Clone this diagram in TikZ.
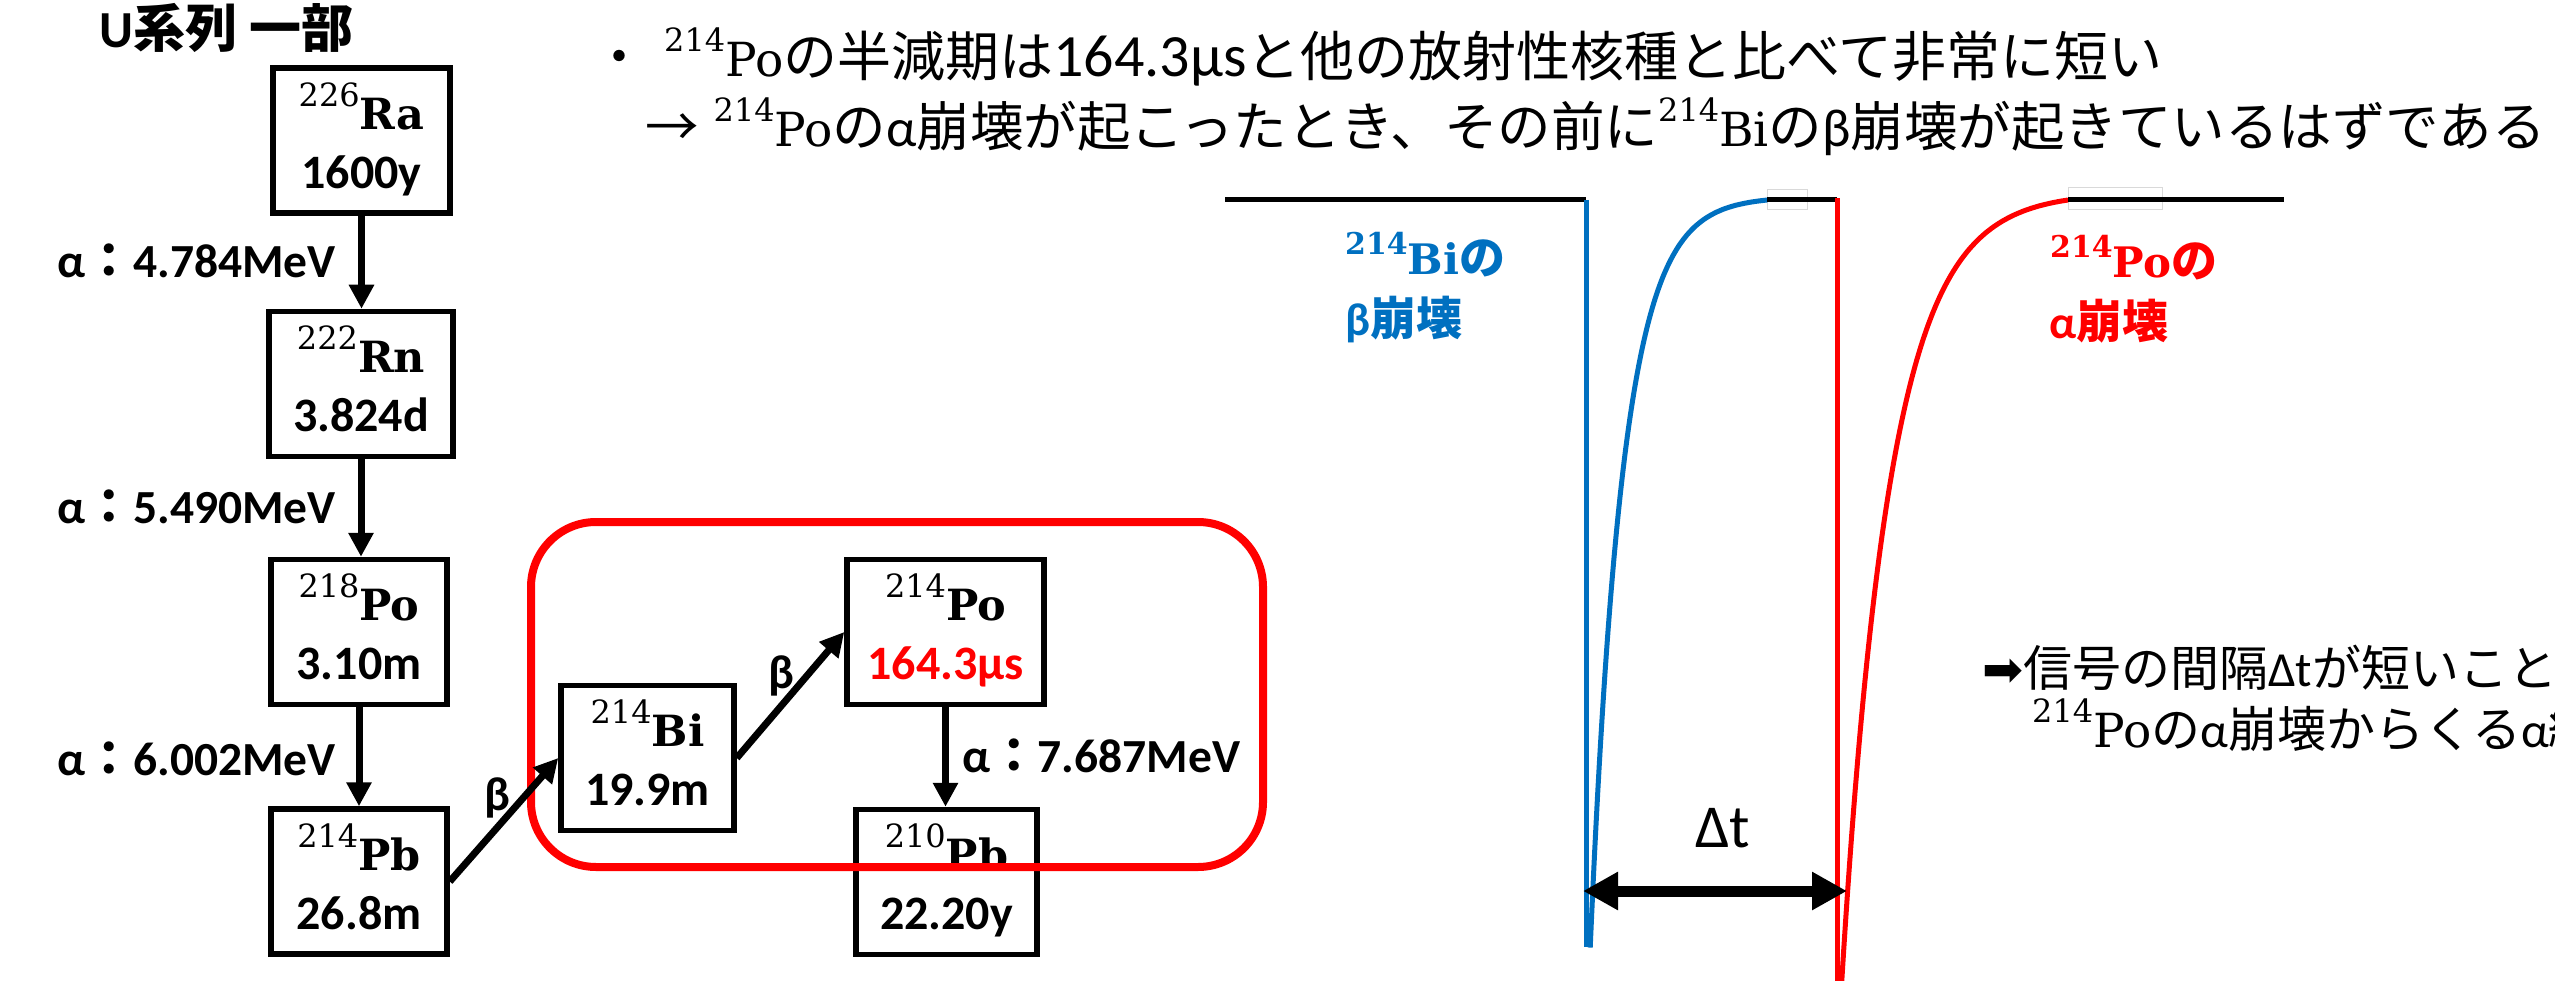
\documentclass[tikz,border=0pt]{standalone}
\usepackage{fontspec}
\setmainfont{Carlito}
\newfontfamily\jp{Noto Sans CJK JP}
\newfontfamily\ser{DejaVu Serif}
\newfontfamily\djs{DejaVu Sans}
\usetikzlibrary{arrows.meta}
\definecolor{obl}{RGB}{0,112,192}
\definecolor{ord}{RGB}{255,0,0}
\newcommand\fsz[1]{\fontsize{#1}{#1}\selectfont}
\newcommand\isoB[2]{{\ser\mdseries\fsz{32}\raisebox{23pt}{#1}}{\ser\bfseries\fsz{43}#2}}
\newcommand\isoR[2]{{\ser\mdseries\fsz{32}\raisebox{25pt}{#1}}{\ser\mdseries\fsz{47}#2}}
\newcommand\isoC[2]{{\ser\bfseries\fsz{30}\raisebox{20pt}{#1}}{\ser\bfseries\fsz{42}#2}}
\newcommand\nuctxt[2]{\rule{0pt}{46pt}#1\\\rule[-10pt]{0pt}{10pt}#2}
\begin{document}
\begin{tikzpicture}[x=1pt,y=-1pt,
  nuc/.style={draw,line width=5.5pt,inner sep=0pt,minimum height=145pt,align=center,font=\bfseries\fontsize{48}{59}\selectfont},
  arr/.style={line width=7pt,-{Triangle[width=24pt,length=24pt]}},
  lab/.style={inner sep=0pt,font=\bfseries\fontsize{47.5}{47.5}\selectfont},
  txt/.style={anchor=base west,inner sep=0pt},
  sig/.style={line width=5pt},
  faint/.style={gray!30,line width=0.8pt},
  dtarrow/.style={line width=11pt,{Triangle[width=36pt,length=35pt]}-{Triangle[width=36pt,length=35pt]}}
]
\fill[white] (0,0) rectangle (2555,981);
\useasboundingbox (0,0) rectangle (2555,981);
\clip (0,0) rectangle (2555,981);

% title
\node[txt,font=\bfseries\fsz{52}] (title) at (99,48) {U{\jp 系列 一部}};

% decay chain boxes
\node[nuc,minimum width=177pt] (Ra) at (361.5,140.5) {\nuctxt{\isoB{226}{Ra}}{1600y}};
\node[nuc,minimum width=184pt] (Rn) at (361,384) {\nuctxt{\isoB{222}{Rn}}{3.824d}};
\node[nuc,minimum width=176pt] (PoA) at (359,632) {\nuctxt{\isoB{218}{Po}}{3.10m}};
\node[nuc,minimum width=176pt] (Pb) at (359,881.5) {\nuctxt{\isoB{214}{Pb}}{26.8m}};
\node[nuc,minimum width=173pt] (Bi) at (647.5,758) {\nuctxt{\isoB{214}{Bi}}{19.9m}};
\node[nuc,minimum width=197pt] (PoB) at (945.5,632) {\nuctxt{\isoB{214}{Po}}{\color{ord}164.3μs}};
\node[nuc,minimum width=181pt] (PbB) at (946.5,882) {\nuctxt{\isoB{210}{Pb}}{22.20y}};

% red frame
\draw[ord,line width=8pt,rounded corners=65pt] (531,522) rectangle (1263,867);

% arrows
\draw[arr] (Ra.south) -- (Ra.south |- Rn.north);
\draw[arr] (Rn.south) -- (Rn.south |- PoA.north);
\draw[arr] (PoA.south) -- (Pb.north);
\draw[arr] (Pb.east) -- (Bi.west);
\draw[arr] (Bi.east) -- (PoB.west);
\draw[arr] (PoB.south) -- (PoB.south |- PbB.north);

% labels
\node[lab,anchor=base east] (a1) at (336,278) {α{\jp ：}4.784MeV};
\node[lab,anchor=base east] (a2) at (336,523) {α{\jp ：}5.490MeV};
\node[lab,anchor=base east] (a3) at (336,775) {α{\jp ：}6.002MeV};
\node[lab,anchor=base west] (a4) at (962,772) {α{\jp ：}7.687MeV};
\node[lab] (b1) at (497,798) {β};
\node[lab] (b2) at (781,676) {β};

% top text
\node[txt,font=\jp\fsz{54}] (t1) at (592,77) {・\hspace{18pt}\isoR{214}{Po}の半減期は{\rmfamily\fsz{60}164.3μs}と他の放射性核種と比べて非常に短い};
\node[txt,font=\jp\fsz{53.5}] (t2) at (645,147) {→\hspace{15pt}\isoR{214}{Po}の{\rmfamily α}崩壊が起こったとき、その前に\isoR{214}{Bi}の{\rmfamily β}崩壊が起きているはずである};

% signals
\draw[faint] (1767,189) rectangle (1807,209);
\draw[faint] (2068,187) rectangle (2162,209);
\draw[sig] (1225,200) -- (1586,200);
\draw[sig,obl] (1586,200) -- (1586,947);
\draw[sig,obl] plot[domain=2.2:179,samples=120,variable=\t] ({1588+\t},{200+800*(exp(-\t/32.5)-0.004)/0.996});
\draw[sig] (1767,200) -- (1837,200);
\draw[sig,ord] (1837,198) -- (1837,990);
\draw[sig,ord] plot[domain=0:228,samples=120,variable=\t] ({1840+\t},{200+810*(exp(-\t/48.4)-0.009)/0.991});
\draw[sig] (2068,200) -- (2284,200);

\coordinate (dL) at (1583,891);
\coordinate (dR) at (1847,891);
\draw[dtarrow] (dL) -- (dR);
\node[anchor=base,inner sep=0pt,font=\fsz{61}] (dt) at (1723,847) {Δt};

\node[txt,text=obl,font=\bfseries] (bl1) at (1345,275) {\isoC{214}{Bi}{\jp\fsz{46}の}};
\node[txt,text=obl,font=\bfseries\fsz{46}] (bl2) at (1345,336) {β{\jp 崩壊}};
\node[txt,text=ord,font=\bfseries] (rl1) at (2050,278) {\isoC{214}{Po}{\jp\fsz{46}の}};
\node[txt,text=ord,font=\bfseries\fsz{46}] (rl2) at (2049,338) {α{\jp 崩壊}};

% right text
\node[txt,font=\jp\fsz{49}] (r1) at (1982,686) {{\djs ➡}信号の間隔{\rmfamily Δt}が短いこと};
\node[txt,font=\jp\fsz{49}] (r2) at (2032,747) {\isoR{214}{Po}の{\rmfamily α}崩壊からくる{\rmfamily α}線};
\end{tikzpicture}
\end{document}
